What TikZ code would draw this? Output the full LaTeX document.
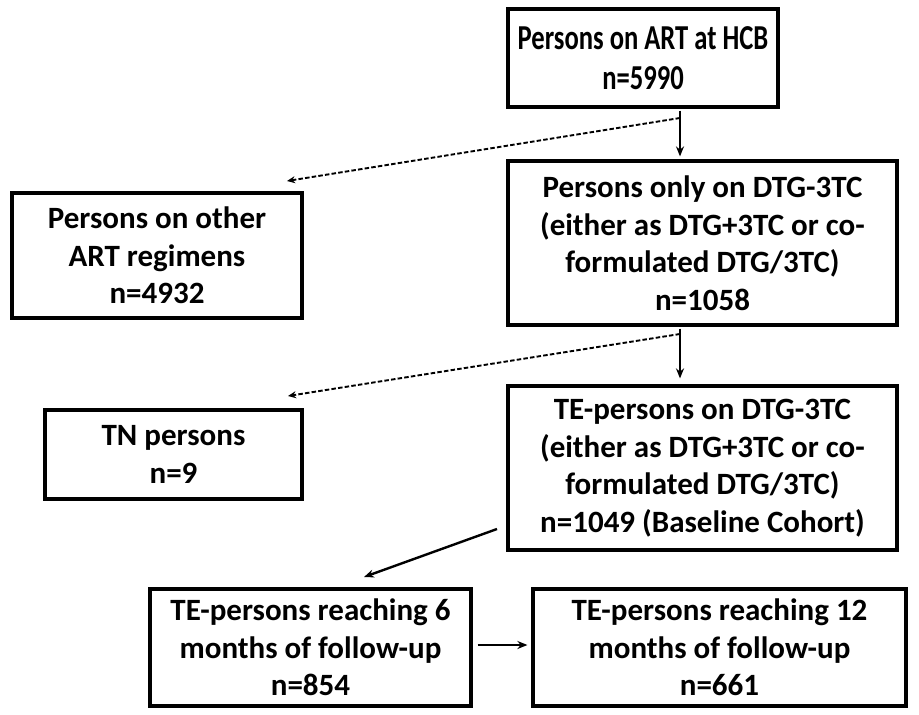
\documentclass[tikz,border=0pt]{standalone}
\usepackage{fontspec}
\setmainfont{Carlito}
\newfontfamily\narrowfont[FakeStretch=0.76]{Carlito}
\usetikzlibrary{arrows.meta, positioning}

\begin{document}
\begin{tikzpicture}[x=1pt, y=-1pt,
    flowbox/.style={draw=black, line width=3.2pt, align=center, inner sep=0pt,
        font=\bfseries\fontsize{31}{37.5}\selectfont},
    mainarrow/.style={line width=2.4pt, -{Stealth[length=10pt, width=8pt]}},
    dropline/.style={line width=1.9pt, dash pattern=on 4.5pt off 2.2pt, -{Stealth[length=8pt, width=7pt]}}]
    \useasboundingbox (0,0) rectangle (919,715);
    % boxes
    \node [flowbox, minimum width=270pt, minimum height=98pt,
        font=\narrowfont\bfseries\fontsize{35}{40}\selectfont] (art) at (643,58)
        {Persons on ART at HCB\\n=5990};
    \node [flowbox, minimum width=290pt, minimum height=125pt] (other) at (157,255.5)
        {Persons on other\\ART regimens\\n=4932};
    \node [flowbox, minimum width=389pt, minimum height=164pt] (dtg) at (702.5,243)
        {Persons only on DTG-3TC\\(either as DTG+3TC or co-\\formulated DTG/3TC)\\n=1058};
    \node [flowbox, minimum width=257pt, minimum height=89pt] (tn) at (173.5,454.5)
        {TN persons\\n=9};
    \node [flowbox, minimum width=389pt, minimum height=164pt] (te) at (702.5,468)
        {TE-persons on DTG-3TC\\(either as DTG+3TC or co-\\formulated DTG/3TC)\\n=1049 (Baseline Cohort)};
    \node [flowbox, minimum width=321pt, minimum height=117pt] (six) at (310.5,647.5)
        {TE-persons reaching 6\\months of follow-up\\n=854};
    \node [flowbox, minimum width=373pt, minimum height=117pt] (twelve) at (719.5,647.5)
        {TE-persons reaching 12\\months of follow-up\\n=661};
    % branch points
    \coordinate (split1) at (680,118);
    \coordinate (split2) at (680,334);
    \coordinate (otherin) at (287,181);
    \coordinate (tnin) at (288,396);
    \coordinate (teout) at (497,529);
    \coordinate (sixin) at (364,577);
    % connectors
    \draw [mainarrow, shorten <=2pt, shorten >=3pt] (art.south -| split1) -- (dtg.north -| split1);
    \draw [dropline] (split1) -- (otherin);
    \draw [mainarrow, shorten <=2pt, shorten >=6pt] (dtg.south -| split2) -- (te.north -| split2);
    \draw [dropline] (split2) -- (tnin);
    \draw [mainarrow] (teout) -- (sixin);
    \draw [mainarrow, shorten <=5pt, shorten >=4pt] (six.east |- 0,645) -- (twelve.west |- 0,645);
\end{tikzpicture}
\end{document}
